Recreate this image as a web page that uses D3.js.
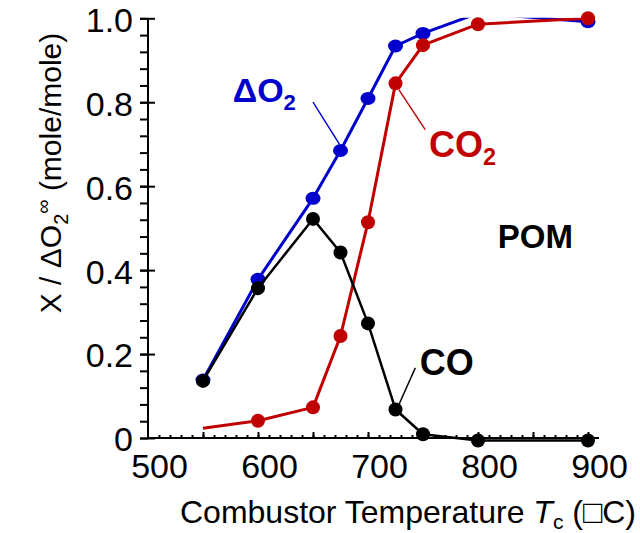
<!DOCTYPE html>
<html>
<head>
<style>
  body { margin: 0; background: #fff; }
  text { font-family: "Liberation Sans", Arial, sans-serif; }
</style>
</head>
<body>

<script src="https://cdn.jsdelivr.net/npm/d3@7"></script>

<script>

// data (POM, combustor temperature sweep)
const temps = [550, 600, 650, 675, 700, 725, 750, 800, 900];
const dO2   = [0.138, 0.378, 0.571, 0.685, 0.809, 0.934, 0.964, 1.012, 0.992];
const co2   = [0.023, 0.041, 0.073, 0.243, 0.514, 0.845, 0.936, 0.986, 1.000];
const co    = [0.136, 0.357, 0.522, 0.442, 0.273, 0.068, 0.009, -0.006, -0.006];

const xTickLabels = [500, 600, 700, 800, 900];
const yTickLabels = [0, 0.2, 0.4, 0.6, 0.8, 1.0];

const width = 640;
const height = 533;

const svg = d3.select('body')
              .append('svg')
              .attr('width', width)
              .attr('height', height);

const x = d3.scaleLinear().domain([500, 910]).range([148, 599]);
const y = d3.scaleLinear().domain([0, 1]).range([438, 18.3]);

// lines are cut off just above 1.0, like the original plot
svg.append('clipPath')
   .attr('id', 'plotclip')
   .append('rect')
     .attr('x', x(500))
     .attr('y', y(1) - 0.5)
     .attr('width', x(910) - x(500) + 20)
     .attr('height', y(0) - y(1) + 40);

// ---- y axis ----
const yMinor = d3.range(0, 1.0001, 0.04);

svg.append('g')
   .attr('transform', `translate(${x(500)},0)`)
   .call(d3.axisLeft(y).tickValues(yMinor).tickSize(8).tickFormat(''))
   .call(g => g.select('.domain').remove());

svg.append('g')
   .attr('transform', `translate(${x(500)},0)`)
   .call(d3.axisRight(y).tickValues(yTickLabels).tickSize(7).tickFormat(''))
   .call(g => g.select('.domain').remove());

const yAxis = svg.append('g')
   .attr('transform', `translate(${x(500)},0)`)
   .call(d3.axisLeft(y).tickValues(yTickLabels).tickSize(8).tickPadding(7)
           .tickFormat(d => d === 0 ? '0' : d3.format('.1f')(d)));
yAxis.select('.domain').attr('d', `M0,${y(0)}V${y(1)}`);
yAxis.selectAll('.tick text').attr('dy', '0.38em');

// ---- x axis ----
const xMinor = d3.range(510, 910, 10);
const xMajor = d3.range(550, 910, 50);

svg.append('g')
   .attr('transform', `translate(0,${y(0)})`)
   .call(d3.axisBottom(x).tickValues(xMinor).tickSize(-3).tickFormat(''))
   .call(g => g.select('.domain').remove());

svg.append('g')
   .attr('transform', `translate(0,${y(0)})`)
   .call(d3.axisBottom(x).tickValues(xMajor).tickSize(-6).tickFormat(''))
   .call(g => g.select('.domain').remove());

const xAxis = svg.append('g')
   .attr('transform', `translate(0,${y(0)})`)
   .call(d3.axisBottom(x).tickValues(xTickLabels).tickSize(0));
xAxis.select('.domain').attr('d', `M${x(500)},0H${x(910)}`);
// the labels sit one minor tick right of their ticks in the original
xAxis.selectAll('.tick text')
     .attr('y', 40).attr('dy', 0).attr('dx', 11);

svg.selectAll('.domain, .tick line')
   .attr('stroke', '#000')
   .attr('stroke-width', 2);

svg.selectAll('.tick text')
   .attr('font-family', '"Liberation Sans", Arial, sans-serif')
   .attr('font-size', 34)
   .attr('fill', '#000');

// ---- axis titles ----
const yTitle = svg.append('text')
   .attr('transform', 'translate(61,173) rotate(-90)')
   .attr('text-anchor', 'middle')
   .attr('font-size', 30);
yTitle.append('tspan').text('X / \u0394O');
yTitle.append('tspan').attr('font-size', 20).attr('dy', 7).text('2');
yTitle.append('tspan').attr('font-size', 20).attr('dy', -18).text('\u221E');
yTitle.append('tspan').attr('dy', 11).text(' (mole/mole)');

const xTitle = svg.append('text')
   .attr('x', 408)
   .attr('y', 523)
   .attr('text-anchor', 'middle')
   .attr('font-size', 32);
xTitle.append('tspan').text('Combustor Temperature ');
xTitle.append('tspan').attr('font-style', 'italic').text('T');
xTitle.append('tspan').attr('font-size', 21).attr('dy', 6).text('c');
xTitle.append('tspan').attr('dy', -6).text(' (\u25A1C)');

// ---- series ----
const series = [
  { name: 'dO2', values: dO2, color: '#0000cc', width: 3, rx: 7.5, ry: 6.5, noMarker: [] },
  { name: 'CO2', values: co2, color: '#c00000', width: 3, rx: 7, ry: 7, noMarker: [0] },
  { name: 'CO',  values: co,  color: '#000000', width: 2.5, rx: 7, ry: 7, noMarker: [] }
];

const line = d3.line()
               .x(d => x(d[0]))
               .y(d => y(d[1]));

series.forEach(s => {
  const pts = temps.map((t, i) => [t, s.values[i], i]);

  svg.append('path')
     .datum(pts)
     .attr('clip-path', 'url(#plotclip)')
     .attr('d', line)
     .attr('fill', 'none')
     .attr('stroke', s.color)
     .attr('stroke-width', s.width)
     .attr('stroke-linejoin', 'round');

  svg.append('g')
     .selectAll('ellipse')
     .data(pts.filter(d => d[1] <= 1.0 && !s.noMarker.includes(d[2])))
     .enter()
     .append('ellipse')
       .attr('cx', d => x(d[0]))
       .attr('cy', d => y(d[1]))
       .attr('rx', s.rx)
       .attr('ry', s.ry)
       .attr('fill', s.color);
});

// ---- annotations (data units) ----
const leaders = [
  { from: [650, 0.80], to: [674, 0.70], color: '#0000cc' },
  { from: [752, 0.735], to: [728, 0.83], color: '#c00000' },
  { from: [743, 0.167], to: [728, 0.079], color: '#000000' }
];

svg.selectAll('line.leader')
   .data(leaders)
   .enter()
   .append('line')
     .attr('class', 'leader')
     .attr('x1', d => x(d.from[0]))
     .attr('y1', d => y(d.from[1]))
     .attr('x2', d => x(d.to[0]))
     .attr('y2', d => y(d.to[1]))
     .attr('stroke', d => d.color)
     .attr('stroke-width', 1.4);

const labels = [
  { at: [577, 0.80],  main: '\u0394O', sub: '2', color: '#0000cc', size: 34 },
  { at: [755.5, 0.67], main: 'CO', sub: '2', color: '#c00000', size: 36 },
  { at: [747, 0.150], main: 'CO', sub: '', color: '#000000', size: 36 },
  { at: [818, 0.453], main: 'POM', sub: '', color: '#000000', size: 33 }
];

labels.forEach(l => {
  const t = svg.append('text')
     .attr('x', x(l.at[0]))
     .attr('y', y(l.at[1]))
     .attr('font-weight', 'bold')
     .attr('font-size', l.size)
     .attr('fill', l.color);
  t.append('tspan').text(l.main);
  if (l.sub) t.append('tspan').attr('font-size', l.size * 0.65).attr('dy', 8).text(l.sub);
});

</script>
</body>
</html>
